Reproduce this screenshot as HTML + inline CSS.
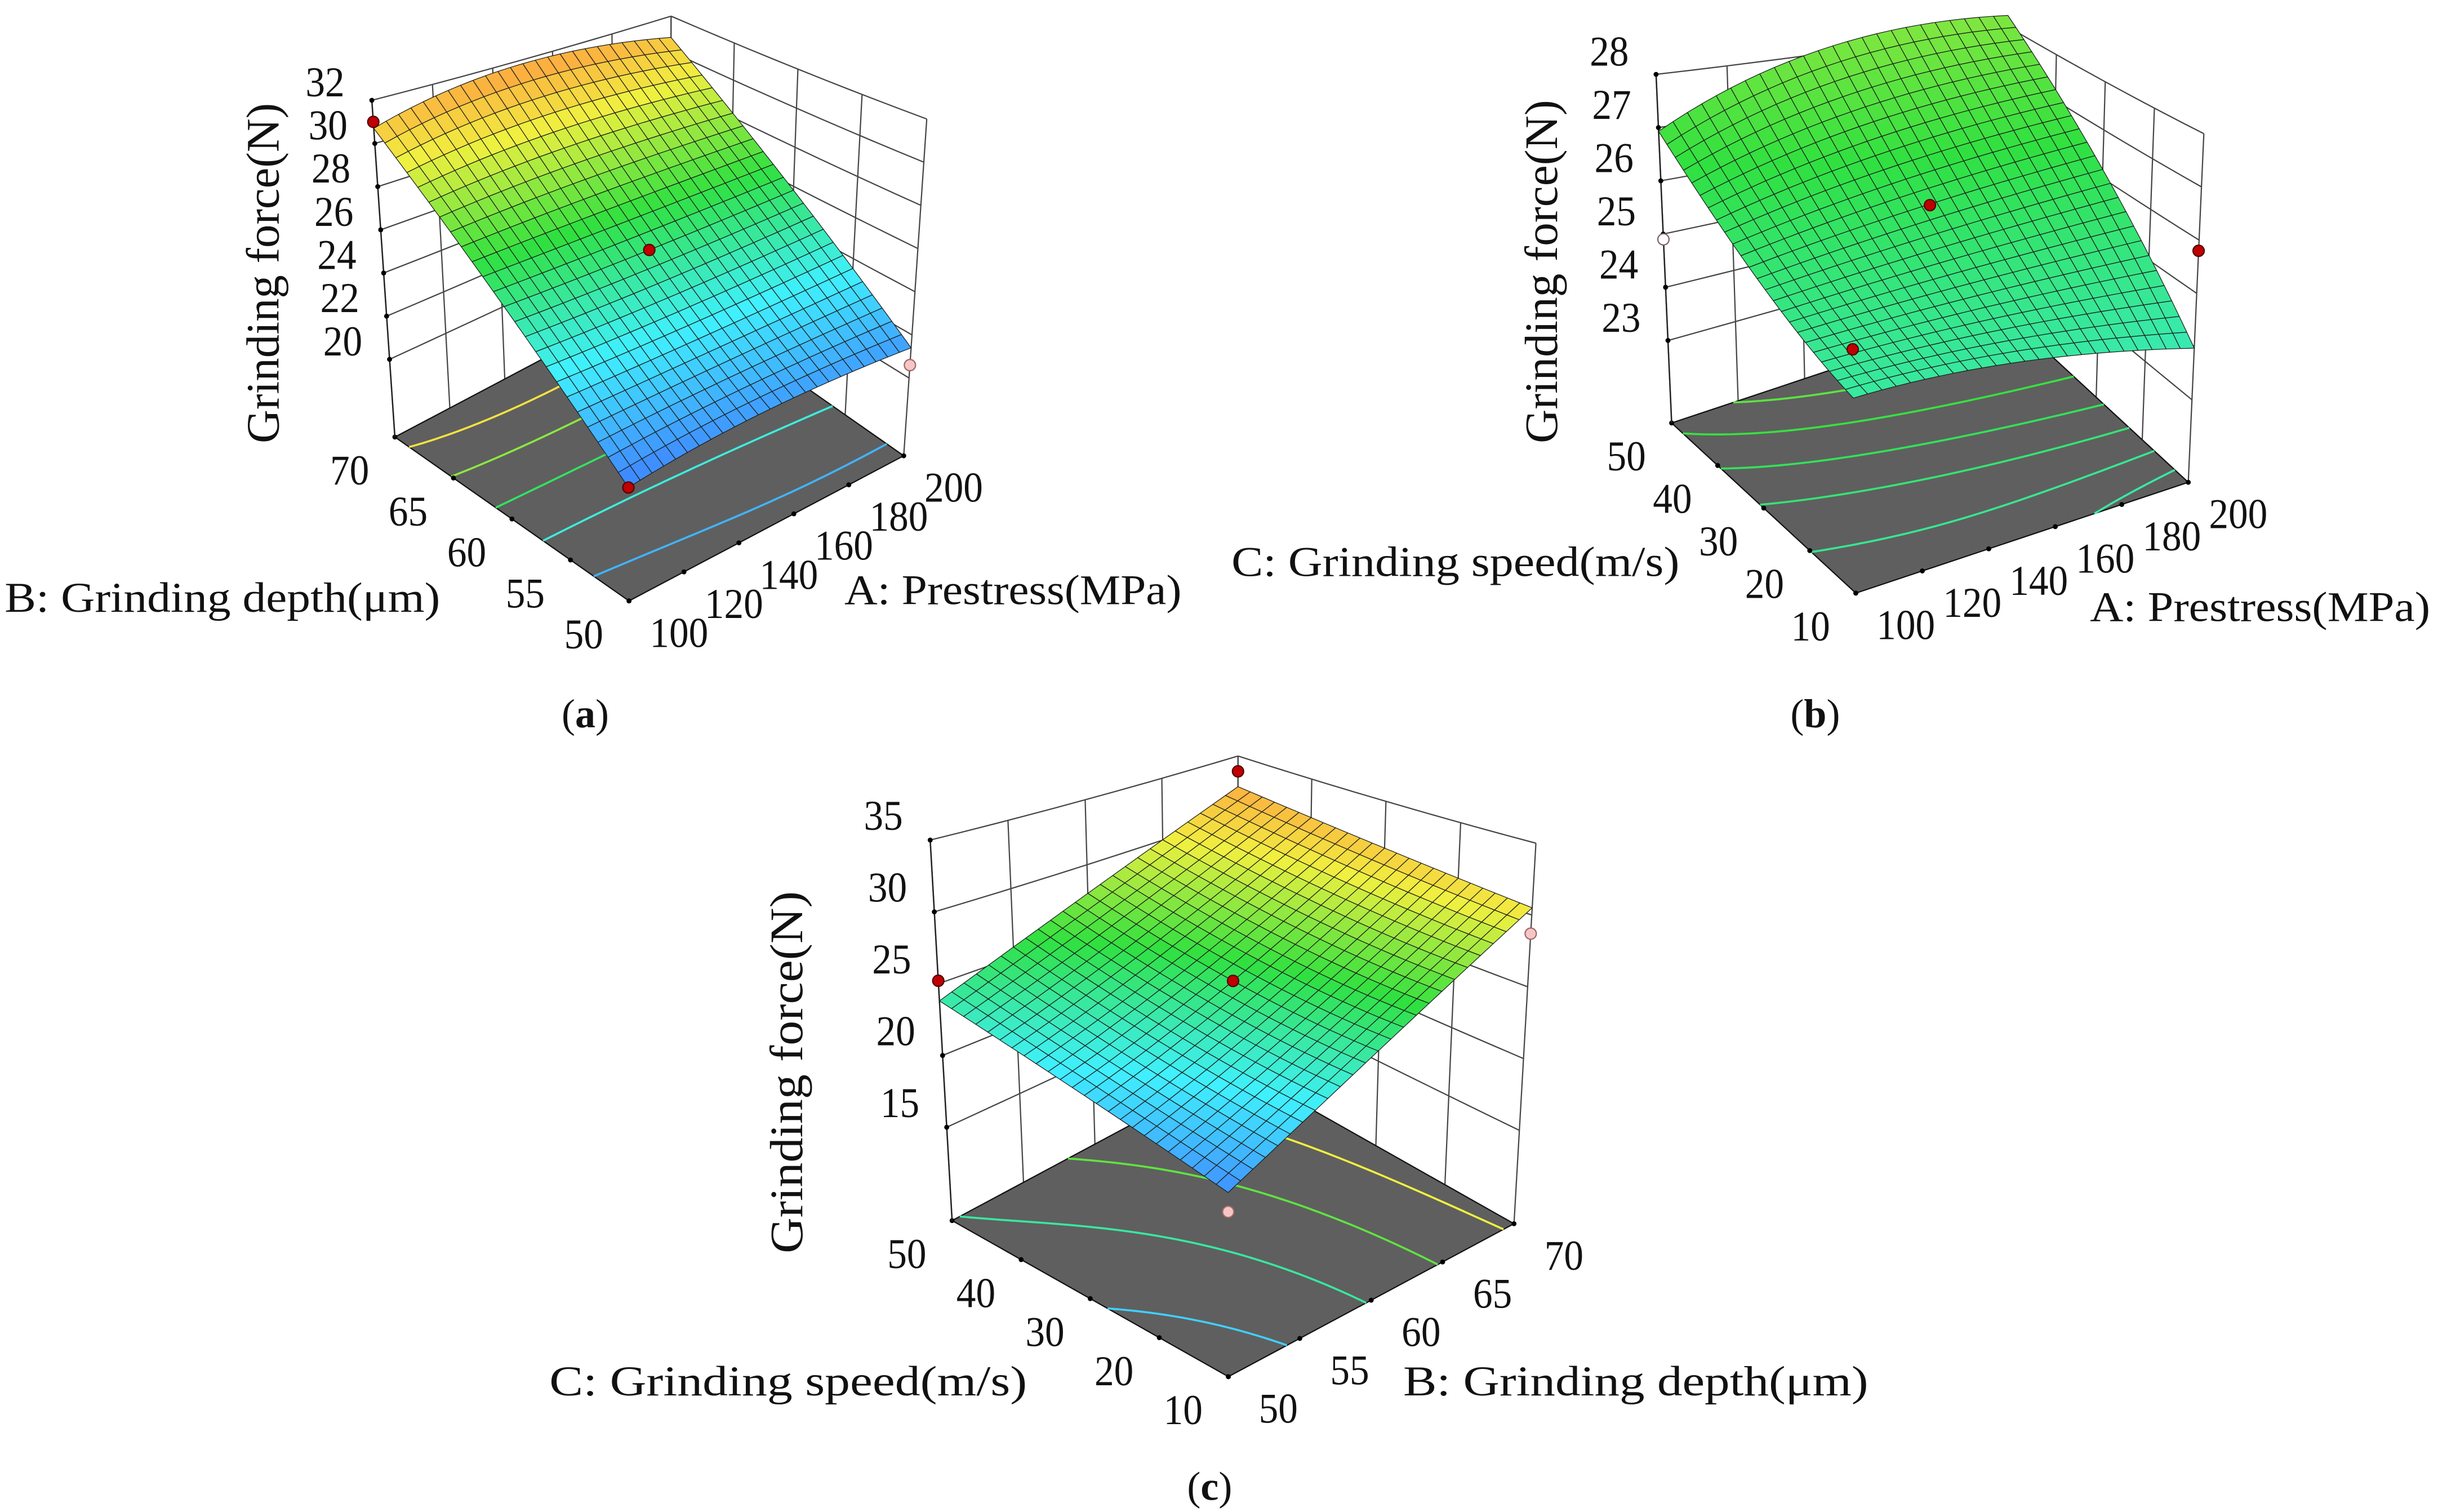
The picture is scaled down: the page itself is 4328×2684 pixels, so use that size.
<!DOCTYPE html>
<html><head><meta charset="utf-8">
<style>
html,body{margin:0;padding:0;background:#fff;}
svg{display:block;}
text{font-family:"Liberation Serif",serif;fill:#111;}
</style></head>
<body>
<svg id="fig" xmlns="http://www.w3.org/2000/svg" width="4328" height="2684" viewBox="0 0 1562 968.7" preserveAspectRatio="none">
<rect x="0" y="0" width="1562" height="968.7" fill="#fff"/>
<g id="pa"></g>
<g id="pb"></g>
<g id="pc"></g>
<text x="375" y="466" text-anchor="middle" font-size="26">(<tspan font-weight="bold">a</tspan>)</text>
<text x="1163" y="466" text-anchor="middle" font-size="26">(<tspan font-weight="bold">b</tspan>)</text>
<text x="775" y="961" text-anchor="middle" font-size="26">(<tspan font-weight="bold">c</tspan>)</text>
</svg>
<script>
// ---------- Panel (a): A Prestress (x) vs B Grinding depth (y) ----------
const aTicksX=[100,120,140,160,180,200];
const aTicksY=[50,55,60,65,70];
const aTicksZ=[20,22,24,26,28,30,32];
const aForce=[[20.7,25.3,30.7],[21.4,25.5,31.8],[21.4,25.8,30.8]]; // [x low,mid,high][y low,mid,high]
const aRedPts=[[100,70,31.0],[150,60,25.5],[100,50,20.7]];
const aPinkPts=[[200,50,20.6]];
const aOpenPts=[];
const aLevels=[22,24,26,28,30];
// ---------- Panel (b): A Prestress (x) vs C Grinding speed (y) ----------
const bTicksX=[100,120,140,160,180,200];
const bTicksY=[10,20,30,40,50];
const bTicksZ=[23,24,25,26,27,28];
const bForce=[[24.45,25.35,26.93],[24.45,25.82,28.13],[23.97,26.18,28.26]];
const bRedPts=[[150,30,26.1],[200,10,25.8],[100,10,25.2]];
const bPinkPts=[];
const bOpenPts=[[100,50,24.9]];
const bLevels=[24.3,24.8,25.4,26.0,26.7,27.5];
// ---------- Panel (c): B Grinding depth (x) vs C Grinding speed (y) ----------
const cTicksX=[50,55,60,65,70];
const cTicksY=[10,20,30,40,50];
const cTicksZ=[15,20,25,30,35];
const cForce=[[19.0,21.3,23.8],[24.2,25.3,27.8],[30.5,31.4,32.4]];
const cRedPts=[[70,50,33.7],[50,50,25.2],[60,30,25.3]];
const cPinkPts=[[70,10,28.7],[50,10,17.9]];
const cOpenPts=[];
const cLevels=[18,21,24,27,30,33];

const NS="http://www.w3.org/2000/svg";
const colorStops=[[0,[32,64,255]],[0.2,[64,144,255]],[0.35,[64,240,255]],[0.55,[48,224,64]],[0.75,[240,240,64]],[0.9,[255,160,64]],[1,[255,64,32]]];
function cmap(t){
  t=Math.max(0,Math.min(1,t));
  for(let i=1;i<colorStops.length;i++){
    if(t<=colorStops[i][0]){
      const a=colorStops[i-1],b=colorStops[i];const f=(t-a[0])/(b[0]-a[0]);
      const c=a[1].map((v,k)=>Math.round(v+(b[1][k]-v)*f));
      return 'rgb('+c.join(',')+')';
    }
  }
  return 'rgb(255,64,32)';
}
function mk(tag,attrs,parent){const e=document.createElementNS(NS,tag);for(const k in attrs)e.setAttribute(k,attrs[k]);parent.appendChild(e);return e;}
function lag(s){return [2*(s-0.5)*(s-1),-4*s*(s-1),2*s*(s-0.5)];}
function surf(grid,u,v){const lu=lag(u),lv=lag(v);let s=0;for(let i=0;i<3;i++)for(let j=0;j<3;j++)s+=lu[i]*lv[j]*grid[i][j];return s;}
function proj(cfg,u,v,z){
  const bx=cfg.F[0]+u*cfg.ex[0]+v*cfg.ey[0];
  const by=cfg.F[1]+u*cfg.ex[1]+v*cfg.ey[1];
  const t=(u+v)/2;
  const h=(z-cfg.zf)*cfg.k*Math.exp(-cfg.p*(t-0.5));
  const cx=cfg.F[0]+0.5*(cfg.ex[0]+cfg.ey[0]);
  return [bx+(bx-cx)*cfg.sv*h,by-h];
}
function pts(arr){return arr.map(p=>p[0].toFixed(2)+','+p[1].toFixed(2)).join(' ');}

function drawPanel(gid,cfg,tx,ty,tz,grid,red,pink,open,levels,T){
  const g=document.getElementById(gid);
  const x0=tx[0],x1=tx[tx.length-1],y0=ty[0],y1=ty[ty.length-1];
  const U=x=>(x-x0)/(x1-x0), V=y=>(y-y0)/(y1-y0);
  const zt=tz[tz.length-1];
  const cz=z=>(z-cfg.cr[0])/(cfg.cr[1]-cfg.cr[0]);
  const gw=mk('g',{},g);
  
  
  for(const z of tz){
    const l1=[],l2=[];
    for(let s=0;s<=10;s++){l1.push(proj(cfg,s/10,1,z));l2.push(proj(cfg,1,s/10,z));}
    const a=mk('polyline',{points:pts(l1),fill:'none',stroke:'#444','stroke-width':0.8},gw);
    
    
    const b=mk('polyline',{points:pts(l2),fill:'none',stroke:'#444','stroke-width':0.8},gw);
    
    
  }
  for(const x of tx){
    const p1=proj(cfg,U(x),1,cfg.zf),p2=proj(cfg,U(x),1,zt);
    const ln=mk('line',{x1:p1[0],y1:p1[1],x2:p2[0],y2:p2[1],stroke:'#444','stroke-width':0.8},gw);
    
    
  }
  for(const y of ty){
    const p1=proj(cfg,1,V(y),cfg.zf),p2=proj(cfg,1,V(y),zt);
    const ln=mk('line',{x1:p1[0],y1:p1[1],x2:p2[0],y2:p2[1],stroke:'#444','stroke-width':0.8},gw);
    
    
  }
  const fl=mk('polygon',{points:pts([proj(cfg,0,0,cfg.zf),proj(cfg,1,0,cfg.zf),proj(cfg,1,1,cfg.zf),proj(cfg,0,1,cfg.zf)]),fill:'#5f5f5f',stroke:'#111','stroke-width':0.8},g);
  
  
  const M=48;const fv=[];
  for(let i=0;i<=M;i++){fv.push([]);for(let j=0;j<=M;j++)fv[i].push(surf(grid,i/M,j/M));}
  for(const L of levels){
    let d='';
    for(let i=0;i<M;i++)for(let j=0;j<M;j++){
      const c=[[i,j],[i+1,j],[i+1,j+1],[i,j+1]];const cr=[];
      for(let e=0;e<4;e++){
        const a=c[e],b=c[(e+1)%4];const va=fv[a[0]][a[1]]-L,vb=fv[b[0]][b[1]]-L;
        if((va<0)!==(vb<0)){const f=va/(va-vb);cr.push([(a[0]+(b[0]-a[0])*f)/M,(a[1]+(b[1]-a[1])*f)/M]);}
      }
      for(let k=0;k+1<cr.length;k+=2){
        const p=proj(cfg,cr[k][0],cr[k][1],cfg.zf),q=proj(cfg,cr[k+1][0],cr[k+1][1],cfg.zf);
        d+='M'+p[0].toFixed(2)+' '+p[1].toFixed(2)+'L'+q[0].toFixed(2)+' '+q[1].toFixed(2);
      }
    }
    const cp=mk('path',{d:d,fill:'none',stroke:cmap(cz(L)),'stroke-width':1.3},g);
    
    
  }
  const tl=s=>String(s).length*12.5;
  for(const x of tx){const p=proj(cfg,U(x),0,cfg.zf);
    const d=mk('circle',{cx:p[0],cy:p[1],r:1.6,fill:'#000'},g);
    
    
    const t=mk('text',{x:p[0]+32-tl(x)/2,y:p[1]+20,dy:'0.35em','font-size':27,textLength:tl(x),lengthAdjust:'spacingAndGlyphs'},g);t.textContent=x;
    
    
  }
  for(const y of ty){const p=proj(cfg,0,V(y),cfg.zf);
    const d=mk('circle',{cx:p[0],cy:p[1],r:1.6,fill:'#000'},g);
    
    
    const t=mk('text',{x:p[0]-29-tl(y)/2,y:p[1]+21,dy:'0.35em','font-size':27,textLength:tl(y),lengthAdjust:'spacingAndGlyphs'},g);t.textContent=y;
    
    
  }
  const pv1=proj(cfg,0,1,cfg.zf),pv2=proj(cfg,0,1,zt);
  const vl=mk('line',{x1:pv1[0],y1:pv1[1],x2:pv2[0],y2:pv2[1],stroke:'#222','stroke-width':0.9},g);
  
  
  for(const z of tz){const p=proj(cfg,0,1,z);
    const d=mk('circle',{cx:p[0],cy:p[1],r:1.6,fill:'#000'},g);
    
    
    const t=mk('text',{x:p[0]-30-tl(z)/2,y:p[1]+cfg.zly,dy:'0.35em','font-size':27,textLength:tl(z),lengthAdjust:'spacingAndGlyphs'},g);t.textContent=z;
    
    
  }
  const gs=mk('g',{},g);
  
  
  const N=24;const cells=[];
  for(let i=0;i<N;i++)for(let j=0;j<N;j++)cells.push([i,j]);
  cells.sort((a,b)=>(b[0]+b[1])-(a[0]+a[1]));
  for(const [i,j] of cells){
    const cs=[[i,j],[i+1,j],[i+1,j+1],[i,j+1]].map(c=>proj(cfg,c[0]/N,c[1]/N,surf(grid,c[0]/N,c[1]/N)));
    const zc=surf(grid,(i+0.5)/N,(j+0.5)/N);
    const q=mk('polygon',{points:pts(cs),fill:cmap(cz(zc)),stroke:'#1c1c1c','stroke-width':0.45,'stroke-linejoin':'round'},gs);
    
    
  }
  const dot=(arr,fill,stroke,name)=>{for(const pt of arr){const p=proj(cfg,U(pt[0]),V(pt[1]),pt[2]);
    const c=mk('circle',{cx:p[0],cy:p[1],r:3.6,fill:fill,stroke:stroke,'stroke-width':0.8},g);
    
    }};
  dot(red,'#c00000','#500000','design-point-above');
  dot(pink,'#f6c6c6','#a06868','design-point-below');
  dot(open,'#ffffff','#806060','design-point-open');
  const t1=mk('text',{x:T.y[1],y:T.y[2],'font-size':27,textLength:T.y[3],lengthAdjust:'spacingAndGlyphs'},g);t1.textContent=T.y[0];
  
  
  const t2=mk('text',{x:T.x[1],y:T.x[2],'font-size':27,textLength:T.x[3],lengthAdjust:'spacingAndGlyphs'},g);t2.textContent=T.x[0];
  
  
  const t3=mk('text',{x:0,y:0,'font-size':30,'text-anchor':'middle',dy:'0.35em',textLength:T.z[3],lengthAdjust:'spacingAndGlyphs',transform:'translate('+T.z[1]+','+T.z[2]+') rotate(-90)'},g);t3.textContent=T.z[0];
  
  
}

drawPanel('pa',{F:[403,385],ex:[176,-93],ey:[-150,-105],k:13.83,zf:16.4,p:0.4,sv:4.2e-4,cr:[18,33.5],zly:-12},
  aTicksX,aTicksY,aTicksZ,aForce,aRedPts,aPinkPts,aOpenPts,aLevels,
  {y:['B: Grinding depth(\u03bcm)',3,392,279],x:['A: Prestress(MPa)',541,387,216],z:['Grinding force(N)',168,175,218]});
drawPanel('pb',{F:[1189,380],ex:[213,-71],ey:[-118,-109],k:34.1,zf:21.45,p:0.4,sv:2.7e-4,cr:[15,36],zly:-15},
  bTicksX,bTicksY,bTicksZ,bForce,bRedPts,bPinkPts,bOpenPts,bLevels,
  {y:['C: Grinding speed(m/s)',789,369,287],x:['A: Prestress(MPa)',1339,398,218],z:['Grinding force(N)',987,174,220]});
drawPanel('pc',{F:[787,882],ex:[183,-98],ey:[-177,-100],k:9.2,zf:8.5,p:0.4,sv:3.2e-4,cr:[15,35],zly:-16},
  cTicksX,cTicksY,cTicksZ,cForce,cRedPts,cPinkPts,cOpenPts,cLevels,
  {y:['C: Grinding speed(m/s)',352,894,306],x:['B: Grinding depth(\u03bcm)',899,894,298],z:['Grinding force(N)',503.5,687,232]});
</script>
</body></html>
